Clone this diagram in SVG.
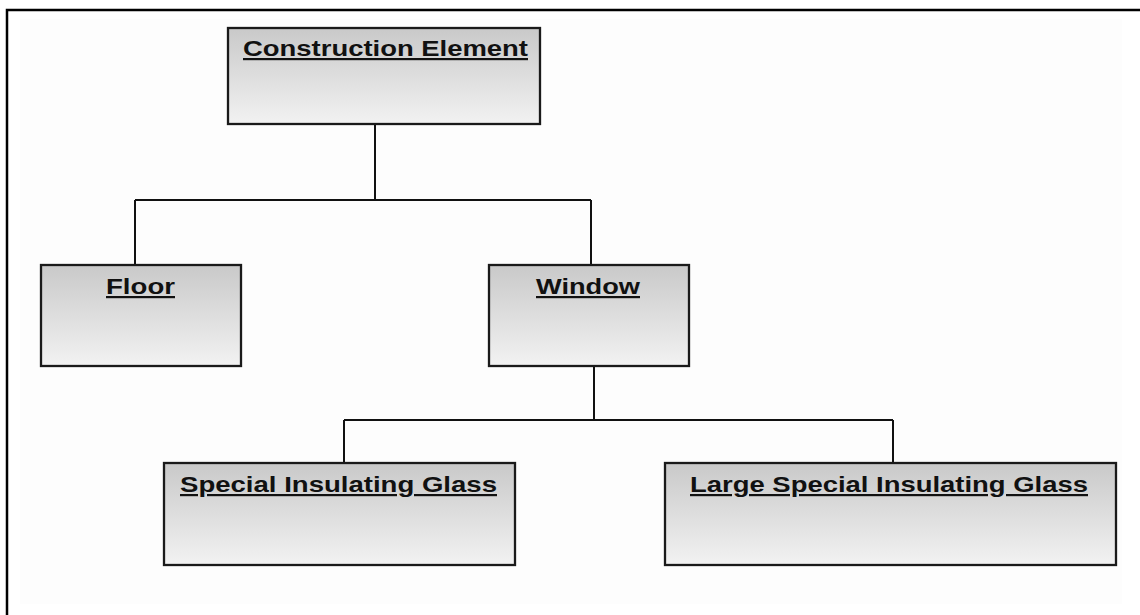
<svg xmlns="http://www.w3.org/2000/svg" width="1140" height="615" viewBox="0 0 1140 615">
  <style>
    .box { stroke: #1a1a1a; stroke-width: 2.3; fill: url(#boxFill); }
    .label { font-family: "Liberation Sans", Arial, sans-serif; font-weight: bold; font-size: 22px; fill: #111; text-decoration: underline; }
    .wire { stroke: #111; stroke-width: 2; fill: none; }
  </style>
  <defs>
    <linearGradient id="boxFill" x1="0" y1="0" x2="0" y2="1">
      <stop offset="0" stop-color="#c9c9c9"/>
      <stop offset="1" stop-color="#f2f2f2"/>
    </linearGradient>
  </defs>

  <!-- page -->
  <rect x="0" y="0" width="1140" height="615" fill="#ffffff"/>
  <rect x="20" y="19" width="1102" height="585" fill="#fdfdfd"/>
  <path d="M7 615 V10 H1140" stroke="#000" stroke-width="2.5" fill="none"/>

  <!-- connectors -->
  <g id="connectors">
    <path class="wire" d="M375 124 V200 M135 200 H591 M135 200 V265 M591 200 V265"/>
    <path class="wire" d="M594 366 V420 M344 420 H893 M344 420 V463 M893 420 V463"/>
  </g>

  <!-- classes -->
  <g id="construction-element">
    <rect class="box" x="228" y="28" width="312" height="96"/>
    <text class="label" x="243" y="56" textLength="285" lengthAdjust="spacingAndGlyphs">Construction Element</text>
  </g>
  <g id="floor">
    <rect class="box" x="41" y="265" width="200" height="101"/>
    <text class="label" x="106" y="294" textLength="69" lengthAdjust="spacingAndGlyphs">Floor</text>
  </g>
  <g id="window">
    <rect class="box" x="489" y="265" width="200" height="101"/>
    <text class="label" x="536" y="294" textLength="104" lengthAdjust="spacingAndGlyphs">Window</text>
  </g>
  <g id="special-insulating-glass">
    <rect class="box" x="164" y="463" width="351" height="102"/>
    <text class="label" x="180" y="492" textLength="317" lengthAdjust="spacingAndGlyphs">Special Insulating Glass</text>
  </g>
  <g id="large-special-insulating-glass">
    <rect class="box" x="665" y="463" width="451" height="102"/>
    <text class="label" x="690" y="492" textLength="398" lengthAdjust="spacingAndGlyphs">Large Special Insulating Glass</text>
  </g>
</svg>
